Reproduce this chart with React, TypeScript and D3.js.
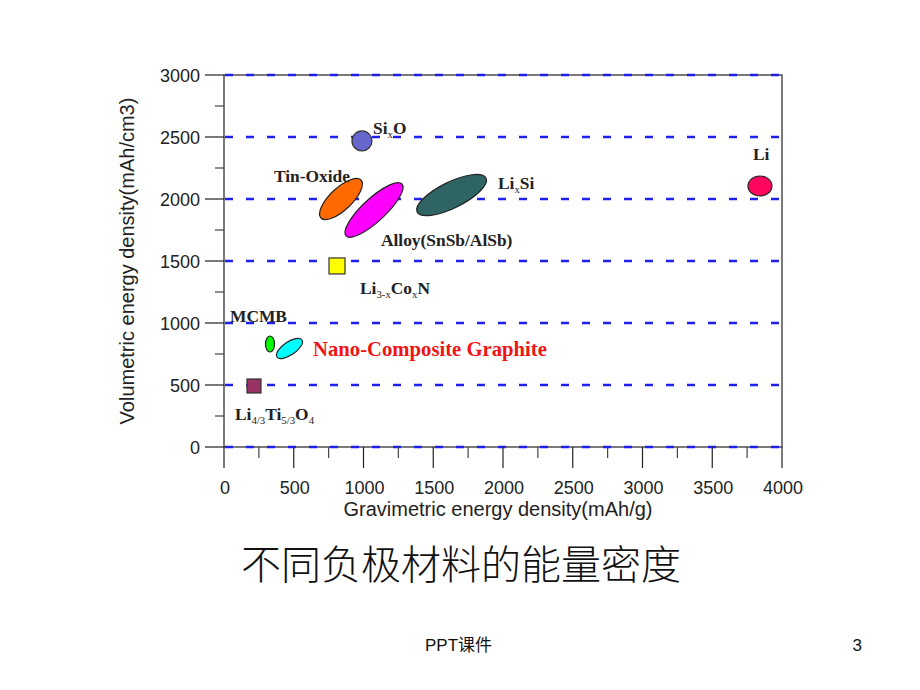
import React, { useRef, useEffect } from 'react';
import * as d3 from 'd3';

// axis ticks
const xTicks = [0, 500, 1000, 1500, 2000, 2500, 3000, 3500, 4000];
const yTicks = [0, 500, 1000, 1500, 2000, 2500, 3000];

// range ellipses: start and end of each material's range (mAh/g, mAh/cm3)
const rangeNames = ['Tin-Oxide', 'Alloy', 'LixSi', 'MCMB', 'Nano-Composite', 'Li'];
const rangeStartX = [695, 875, 1384, 330, 380, 3756];
const rangeStartY = [1847, 1702, 1895, 766, 726, 2105];
const rangeEndX = [982, 1276, 1878, 330, 559, 3928];
const rangeEndY = [2153, 2121, 2169, 895, 863, 2105];
const rangeColors = ['#ff6a00', '#ff00ff', '#2f6464', '#00ff00', '#00ffff', '#ff0660'];
const rangeWidths = [11, 11.5, 13, 4.5, 6.5, 10];

// single points
const pointNames = ['SixO', 'Li3-xCoxN', 'Li4/3Ti5/3O4'];
const pointX = [989, 810, 215];
const pointY = [2468, 1460, 492];
const pointShapes = ['circle', 'square', 'square'];
const pointColors = ['#6666cc', '#ffff00', '#993366'];

// labels: [text, subscript] pieces and anchor in data units
const labelParts: [string, boolean][][] = [
  [['Si', false], ['x', true], ['O', false]],
  [['Tin-Oxide', false]],
  [['Alloy(SnSb/AlSb)', false]],
  [['Li', false], ['x', true], ['Si', false]],
  [['Li', false]],
  [['Li', false], ['3-x', true], ['Co', false], ['x', true], ['N', false]],
  [['MCMB', false]],
  [['Nano-Composite Graphite', false]],
  [['Li', false], ['4/3', true], ['Ti', false], ['5/3', true], ['O', false], ['4', true]],
];
const labelX = [1068, 358, 1125, 1964, 3792, 975, 43, 638, 79];
const labelY = [2524, 2137, 1621, 2081, 2315, 1234, 1008, 734, 218];

const App: React.FC = () => {
  const svgRef = useRef<SVGSVGElement>(null);

  useEffect(() => {
    if (!svgRef.current) return;
    const svg = d3.select(svgRef.current);
    svg.selectAll('*').remove();

    const left = 224, right = 782, top = 75, bottom = 447;
    const x = d3.scaleLinear().domain([0, 4000]).range([left, right]);
    const y = d3.scaleLinear().domain([0, 3000]).range([bottom, top]);

    svg.append('rect').attr('width', 920).attr('height', 690).attr('fill', '#fff');

    // frame
    svg.append('rect')
      .attr('x', left).attr('y', top)
      .attr('width', right - left).attr('height', bottom - top)
      .attr('fill', 'none').attr('stroke', '#222').attr('stroke-width', 1.2);

    // dashed grid
    svg.selectAll('.grid')
      .data(yTicks)
      .enter()
      .append('line')
      .attr('x1', left + 1).attr('x2', right - 2)
      .attr('y1', d => y(d)).attr('y2', d => y(d))
      .attr('stroke', '#1f1fee').attr('stroke-width', 2.6)
      .attr('stroke-dasharray', '8 13');

    // y axis ticks
    const yMinor = d3.range(250, 3000, 500);
    svg.selectAll('.ytick')
      .data(yTicks)
      .enter()
      .append('line')
      .attr('x1', left - 19).attr('x2', left)
      .attr('y1', d => y(d)).attr('y2', d => y(d))
      .attr('stroke', '#222').attr('stroke-width', 1.2);
    svg.selectAll('.yminor')
      .data(yMinor)
      .enter()
      .append('line')
      .attr('x1', left - 9).attr('x2', left)
      .attr('y1', d => y(d)).attr('y2', d => y(d))
      .attr('stroke', '#444').attr('stroke-width', 1.2);
    svg.selectAll('.ylabel')
      .data(yTicks)
      .enter()
      .append('text')
      .attr('x', 200).attr('y', d => y(d) + 6.5)
      .attr('text-anchor', 'end')
      .style('font-family', 'Arial, "Liberation Sans", sans-serif')
      .style('font-size', '18px')
      .attr('fill', '#222')
      .text(d => d);

    // x axis ticks
    const xMinor = d3.range(250, 4000, 500);
    svg.selectAll('.xtick')
      .data(xTicks)
      .enter()
      .append('line')
      .attr('x1', d => x(d)).attr('x2', d => x(d))
      .attr('y1', bottom).attr('y2', bottom + 21)
      .attr('stroke', '#222').attr('stroke-width', 1.2);
    svg.selectAll('.xminor')
      .data(xMinor)
      .enter()
      .append('line')
      .attr('x1', d => x(d)).attr('x2', d => x(d))
      .attr('y1', bottom).attr('y2', bottom + 11)
      .attr('stroke', '#444').attr('stroke-width', 1.2);
    svg.selectAll('.xlabel')
      .data(xTicks)
      .enter()
      .append('text')
      .attr('x', d => x(d) + 1).attr('y', 494)
      .attr('text-anchor', 'middle')
      .style('font-family', 'Arial, "Liberation Sans", sans-serif')
      .style('font-size', '18px')
      .attr('fill', '#222')
      .text(d => d);

    // axis titles
    svg.append('text')
      .attr('x', 498).attr('y', 516)
      .attr('text-anchor', 'middle')
      .style('font-family', 'Arial, "Liberation Sans", sans-serif')
      .style('font-size', '20px')
      .attr('fill', '#222')
      .text('Gravimetric energy density(mAh/g)');
    svg.append('text')
      .attr('transform', 'translate(134,261) rotate(-90)')
      .attr('text-anchor', 'middle')
      .style('font-family', 'Arial, "Liberation Sans", sans-serif')
      .style('font-size', '20px')
      .attr('fill', '#222')
      .text('Volumetric energy density(mAh/cm3)');

    // range ellipses
    rangeNames.forEach((_, i) => {
      const x1 = x(rangeStartX[i]), y1 = y(rangeStartY[i]);
      const x2 = x(rangeEndX[i]), y2 = y(rangeEndY[i]);
      const cx = (x1 + x2) / 2, cy = (y1 + y2) / 2;
      const rx = Math.hypot(x2 - x1, y2 - y1) / 2;
      const angle = Math.atan2(y2 - y1, x2 - x1) * 180 / Math.PI;
      svg.append('ellipse')
        .attr('cx', 0).attr('cy', 0)
        .attr('rx', rx).attr('ry', rangeWidths[i])
        .attr('transform', `translate(${cx},${cy}) rotate(${angle})`)
        .attr('fill', rangeColors[i])
        .attr('stroke', '#222').attr('stroke-width', 1.2);
    });

    // points
    pointNames.forEach((_, i) => {
      const px = x(pointX[i]), py = y(pointY[i]);
      if (pointShapes[i] === 'circle') {
        svg.append('circle')
          .attr('cx', px).attr('cy', py).attr('r', 10)
          .attr('fill', pointColors[i])
          .attr('stroke', '#333').attr('stroke-width', 1.2);
      } else {
        const s = i === 1 ? 16 : 14;
        svg.append('rect')
          .attr('x', px - s / 2).attr('y', py - s / 2)
          .attr('width', s).attr('height', s)
          .attr('fill', pointColors[i])
          .attr('stroke', '#333').attr('stroke-width', 1.2);
      }
    });

    // labels
    labelParts.forEach((parts, i) => {
      const isNano = i === 7;
      const size = isNano ? 20.7 : 17.4;
      const t = svg.append('text')
        .attr('x', x(labelX[i])).attr('y', y(labelY[i]))
        .style('font-family', '"Times New Roman", "Liberation Serif", serif')
        .style('font-weight', 'bold')
        .style('font-size', `${size}px`)
        .attr('fill', isNano ? '#f01515' : '#222');
      let sub = false;
      parts.forEach(([txt, isSub]) => {
        const span = t.append('tspan').text(txt);
        if (isSub && !sub) span.attr('dy', 4);
        if (!isSub && sub) span.attr('dy', -4);
        if (isSub) span.style('font-size', `${size * 0.62}px`).style('font-weight', 'normal');
        sub = isSub;
      });
    });

    // caption
    svg.append('text')
      .attr('x', 461).attr('y', 579)
      .attr('text-anchor', 'middle')
      .style('font-family', '"Noto Sans CJK SC", sans-serif')
      .style('font-size', '40px')
      .style('font-weight', 300)
      .attr('fill', '#111')
      .text('不同负极材料的能量密度');

    svg.append('text')
      .attr('x', 425).attr('y', 651)
      .style('font-family', 'Arial, "Liberation Sans", "Noto Sans CJK SC", sans-serif')
      .style('font-size', '17px')
      .attr('fill', '#111')
      .text('PPT课件');
    svg.append('text')
      .attr('x', 862).attr('y', 651)
      .attr('text-anchor', 'end')
      .style('font-family', 'Arial, "Liberation Sans", sans-serif')
      .style('font-size', '17px')
      .attr('fill', '#111')
      .text('3');
  }, []);

  return (
    <div style={{ position: 'absolute', left: 0, top: 0 }}>
      <svg ref={svgRef} width={920} height={690} style={{ display: 'block' }} />
    </div>
  );
};

export default App;
